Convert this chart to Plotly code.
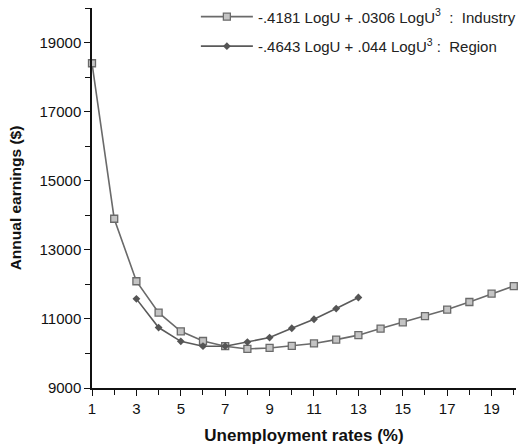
import plotly.graph_objects as go

unemp_industry = list(range(1, 21))
earn_industry = [18400, 13900, 12090, 11180, 10640, 10360, 10210, 10130, 10160, 10220,
                 10290, 10400, 10530, 10720, 10900, 11080, 11270, 11490, 11730, 11950]
unemp_region = list(range(3, 14))
earn_region = [11580, 10750, 10350, 10210, 10210, 10330, 10460, 10730, 10990, 11300, 11620]

name_industry = "-.4181 LogU + .0306 LogU<sup>3</sup>\u00a0 :\u00a0 Industry"
name_region = "-.4643 LogU + .044 LogU<sup>3</sup> :\u00a0 Region"

line_col = "#6a6a6a"
font_fam = "Liberation Sans, Arial, sans-serif"

fig = go.Figure()
fig.add_trace(go.Scatter(
    x=unemp_industry, y=earn_industry, name=name_industry, mode="lines+markers",
    line=dict(color=line_col, width=1.6),
    marker=dict(symbol="square", size=7, color="#c4c4c4", line=dict(color="#6a6a6a", width=1.3)),
    legendgroup="a", cliponaxis=False,
))
fig.add_trace(go.Scatter(
    x=unemp_region, y=earn_region, name=name_region, mode="lines+markers",
    line=dict(color="#5a5a5a", width=1.6),
    marker=dict(symbol="diamond", size=6, color="#555555"),
    legendgroup="b", cliponaxis=False,
))

fig.update_layout(
    width=518, height=448,
    margin=dict(l=92, r=2, t=8, b=60, autoexpand=False),
    paper_bgcolor="white", plot_bgcolor="white",
    font=dict(family=font_fam, size=13, color="#111"),
    showlegend=True,
    legend=dict(x=0.245, y=1.02, xanchor="left", yanchor="top",
                bgcolor="rgba(0,0,0,0)", font=dict(size=15, color="#222"),
                tracegroupgap=7, traceorder="grouped", itemwidth=52),
    xaxis=dict(
        range=[1, 20.1], showgrid=False, zeroline=False, automargin=False,
        showline=True, linecolor="#111", linewidth=1.5,
        ticks="outside", tickcolor="#111", ticklen=6, tickwidth=1.3,
        tick0=1, dtick=2, tickfont=dict(size=15),
        minor=dict(ticks="outside", dtick=1, tick0=1, ticklen=5, tickcolor="#111", tickwidth=1.3),
        title=dict(text="<b>Unemployment rates (%)</b>", font=dict(size=17), standoff=13),
    ),
    yaxis=dict(
        range=[9000, 20000], showgrid=False, zeroline=False, automargin=False,
        showline=True, linecolor="#111", linewidth=1.5,
        ticks="outside", tickcolor="#111", ticklen=6, tickwidth=1.3,
        tick0=9000, dtick=2000, tickfont=dict(size=15), tickformat="d",
        minor=dict(ticks="outside", dtick=1000, tick0=9000, ticklen=5, tickcolor="#111", tickwidth=1.3),
        title=dict(text="<b>Annual earnings ($)</b>", font=dict(size=15.5), standoff=14),
    ),
)

fig.write_html("out.html", config={"displayModeBar": False},
               post_script="document.body.style.margin='0';")
